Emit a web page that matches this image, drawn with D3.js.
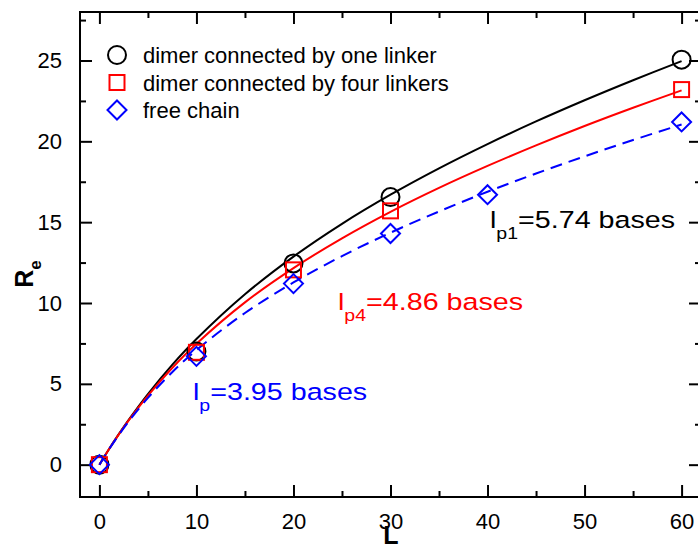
<!DOCTYPE html>
<html>
<head>
<meta charset="utf-8">
<script src="https://cdn.jsdelivr.net/npm/d3@7"></script>
<style>
  body { margin: 0; background: #fff; }
  text { font-family: Arial, "Liberation Sans", Helvetica, sans-serif; }
</style>
</head>
<body>
<svg id="chart" width="698" height="547"></svg>
<script>
// measured points
var oneLinkerL = [0, 10, 20, 30, 60];
var oneLinkerR = [0, 7.0, 12.45, 16.55, 25.05];
var fourLinkerL = [0, 10, 20, 30, 60];
var fourLinkerR = [0, 6.95, 12.05, 15.7, 23.2];
var freeL = [0, 10, 20, 30, 40, 60];
var freeR = [0, 6.7, 11.2, 14.3, 16.7, 21.2];

// fit curves
var curveL = [0, 1, 2, 3, 5, 7.5, 10, 15, 20, 25, 30, 35, 40, 45, 50, 55, 60];
var curveOne = [0, 0.97, 1.89, 2.76, 4.37, 6.17, 7.77, 10.54, 12.87, 14.90, 16.70, 18.33, 19.83, 21.23, 22.54, 23.78, 24.96];
var curveFour = [0, 0.97, 1.87, 2.72, 4.27, 5.98, 7.48, 10.04, 12.16, 14.00, 15.64, 17.12, 18.48, 19.75, 20.95, 22.08, 23.15];
var curveFree = [0, 0.96, 1.84, 2.66, 4.13, 5.72, 7.09, 9.38, 11.27, 12.90, 14.35, 15.66, 16.88, 18.01, 19.07, 20.08, 21.04];

var xTicks = [0, 10, 20, 30, 40, 50, 60];
var xMinor = [5, 15, 25, 35, 45, 55];
var yTicks = [0, 5, 10, 15, 20, 25];
var yMinor = [2.5, 7.5, 12.5, 17.5, 22.5, 27.5];

var legendLabels = ["dimer connected by one linker", "dimer connected by four linkers", "free chain"];

var plotLeft = 80, plotRight = 701, plotTop = 12, plotBottom = 497;

var svg = d3.select("#chart");
var x = d3.scaleLinear().domain([-2, 62]).range([plotLeft, plotRight]);
var y = d3.scaleLinear().domain([-2, 28]).range([plotBottom, plotTop]);

// frame
svg.append("rect")
  .attr("x", plotLeft).attr("y", plotTop)
  .attr("width", plotRight - plotLeft).attr("height", plotBottom - plotTop)
  .attr("fill", "none").attr("stroke", "#000").attr("stroke-width", 2);

svg.append("g").attr("transform", "translate(0," + plotBottom + ")")
  .call(d3.axisBottom(x).tickValues(xTicks).tickSize(-12).tickPadding(16).tickFormat(d3.format("d")));
svg.append("g").attr("transform", "translate(0," + plotBottom + ")")
  .call(d3.axisBottom(x).tickValues(xMinor).tickSize(-6).tickFormat(""));
svg.append("g").attr("transform", "translate(0," + plotTop + ")")
  .call(d3.axisTop(x).tickValues(xTicks).tickSize(-12).tickFormat(""));
svg.append("g").attr("transform", "translate(0," + plotTop + ")")
  .call(d3.axisTop(x).tickValues(xMinor).tickSize(-6).tickFormat(""));

svg.append("g").attr("transform", "translate(" + plotLeft + ",0)")
  .call(d3.axisLeft(y).tickValues(yTicks).tickSize(-12).tickPadding(18).tickFormat(d3.format("d")));
svg.append("g").attr("transform", "translate(" + plotLeft + ",0)")
  .call(d3.axisLeft(y).tickValues(yMinor).tickSize(-6).tickFormat(""));
svg.append("g").attr("transform", "translate(" + plotRight + ",0)")
  .call(d3.axisRight(y).tickValues(yTicks).tickSize(-12).tickFormat(""));
svg.append("g").attr("transform", "translate(" + plotRight + ",0)")
  .call(d3.axisRight(y).tickValues(yMinor).tickSize(-6).tickFormat(""));

svg.selectAll(".domain").remove();
svg.selectAll(".tick line").attr("stroke", "#000").attr("stroke-width", 2);
svg.selectAll(".tick text").attr("fill", "#000").style("font-size", "22px")
  .style("font-family", "Arial, 'Liberation Sans', sans-serif");

// axis titles
svg.append("text")
  .attr("x", 391).attr("y", 544)
  .attr("text-anchor", "middle")
  .style("font-size", "25px").style("font-weight", "bold")
  .text("L");

var ylab = svg.append("text")
  .attr("transform", "translate(33,274) rotate(-90)")
  .attr("text-anchor", "middle")
  .style("font-size", "25px").style("font-weight", "bold");
ylab.append("tspan").text("R");
ylab.append("tspan").attr("dy", 8).style("font-size", "17px").text("e");

// curves
var line = d3.line()
  .x(function(d) { return x(d[0]); })
  .y(function(d) { return y(d[1]); })
  .curve(d3.curveCatmullRom);

var curves = [
  {vals: curveOne, color: "#000", dash: null},
  {vals: curveFour, color: "#ff0000", dash: null},
  {vals: curveFree, color: "#0000ff", dash: "12,7"}
];
curves.forEach(function(c) {
  svg.append("path")
    .datum(d3.zip(curveL, c.vals))
    .attr("d", line)
    .attr("fill", "none")
    .attr("stroke", c.color)
    .attr("stroke-width", 2)
    .attr("stroke-dasharray", c.dash);
});

// markers
function circleMark(g, cx, cy) {
  g.append("circle").attr("cx", cx).attr("cy", cy).attr("r", 9)
    .attr("fill", "none").attr("stroke", "#000").attr("stroke-width", 2);
}
function squareMark(g, cx, cy) {
  g.append("rect").attr("x", cx - 7.5).attr("y", cy - 7.5).attr("width", 15).attr("height", 15)
    .attr("fill", "none").attr("stroke", "#ff0000").attr("stroke-width", 2);
}
function diamondMark(g, cx, cy) {
  g.append("path").attr("d", "M" + cx + "," + (cy - 9.5) + "L" + (cx + 9.5) + "," + cy + "L" + cx + "," + (cy + 9.5) + "L" + (cx - 9.5) + "," + cy + "Z")
    .attr("fill", "none").attr("stroke", "#0000ff").attr("stroke-width", 2);
}

var marks = svg.append("g");
d3.zip(oneLinkerL, oneLinkerR).forEach(function(d) { circleMark(marks, x(d[0]), y(d[1])); });
d3.zip(fourLinkerL, fourLinkerR).forEach(function(d) { squareMark(marks, x(d[0]), y(d[1])); });
d3.zip(freeL, freeR).forEach(function(d) { diamondMark(marks, x(d[0]), y(d[1])); });

// legend
var legend = svg.append("g");
var markFns = [circleMark, squareMark, diamondMark];
legendLabels.forEach(function(lab, i) {
  var ly = 55 + i * 27.5;
  markFns[i](legend, 117, ly);
  legend.append("text")
    .attr("x", 143).attr("y", ly + 8)
    .style("font-size", "22px")
    .text(lab);
});

// annotations
var notes = [
  {x: 490, y: 228, sub: "p1", rest: "=5.74 bases", color: "#000"},
  {x: 338, y: 310, sub: "p4", rest: "=4.86 bases", color: "#ff0000"},
  {x: 193, y: 400, sub: "p", rest: "=3.95 bases", color: "#0000ff"}
];
notes.forEach(function(n) {
  var t = svg.append("text")
    .attr("transform", "translate(" + n.x + "," + n.y + ") scale(1.22,1)")
    .attr("fill", n.color)
    .style("font-size", "23.5px");
  t.append("tspan").text("l");
  t.append("tspan").attr("dy", 11).style("font-size", "16px").text(n.sub);
  t.append("tspan").attr("dy", -11).text(n.rest);
});
</script>
</body>
</html>
